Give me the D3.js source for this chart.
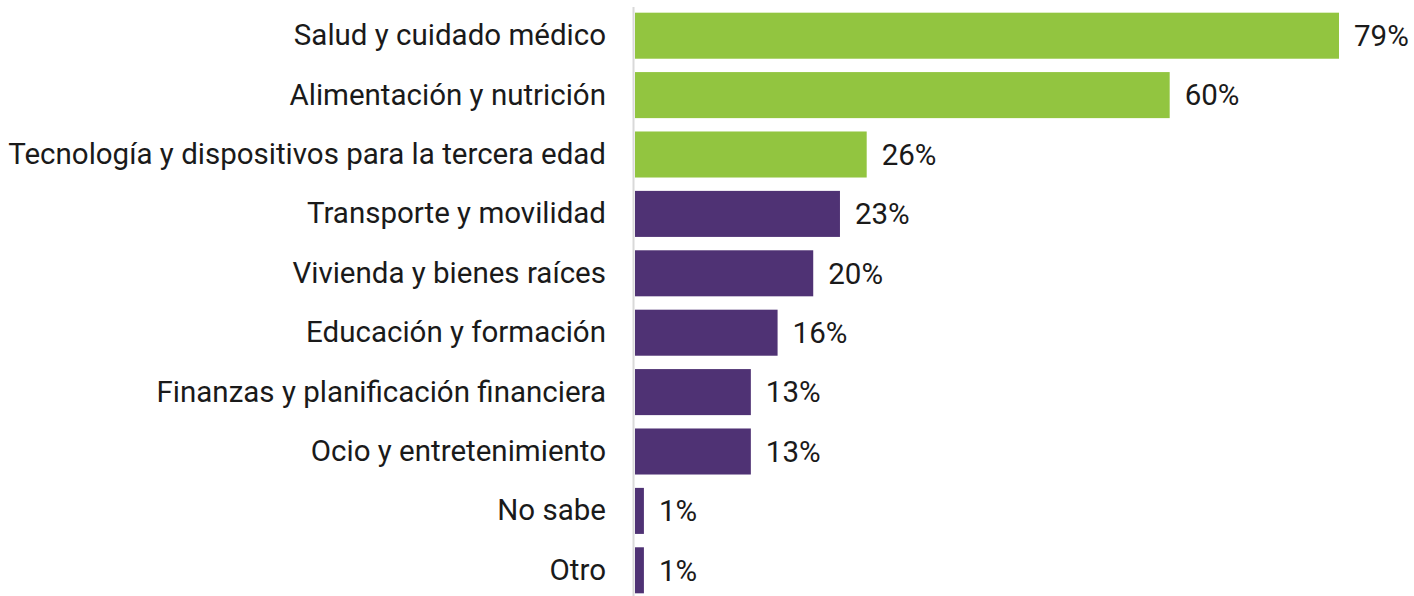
<!DOCTYPE html>
<html><head><meta charset="utf-8">
<script src="https://cdn.jsdelivr.net/npm/d3@7"></script>
<style>body{margin:0;background:#fff}svg{display:block}</style>
</head><body>
<script>
const categories = ["Salud y cuidado médico","Alimentación y nutrición","Tecnología y dispositivos para la tercera edad","Transporte y movilidad","Vivienda y bienes raíces","Educación y formación","Finanzas y planificación financiera","Ocio y entretenimiento","No sabe","Otro"];
const values = [79,60,26,23,20,16,13,13,1,1];
const highlighted = [true,true,true,false,false,false,false,false,false,false];

const W=1414,H=596;
const svg=d3.select("body").append("svg").attr("width",W).attr("height",H);
const x0=635;
const x=d3.scaleLinear().domain([0,79]).range([x0,1339]);
const y=d3.scaleBand().domain(categories).range([6,600]).paddingInner(0.225).paddingOuter(0.1125);

svg.selectAll("rect.bar").data(categories).join("rect")
  .attr("x",x(0)).attr("y",d=>y(d))
  .attr("width",(d,i)=>x(values[i])-x(0)).attr("height",y.bandwidth())
  .attr("fill",(d,i)=>highlighted[i]?"#92c540":"#4f3274");

svg.append("line").attr("x1",633.5).attr("x2",633.5).attr("y1",7).attr("y2",H)
  .attr("stroke","#d9d9d9").attr("stroke-width",2);

const axis=d3.axisLeft(y).tickSize(0).tickPadding(0);
const g=svg.append("g").attr("transform","translate(606,0)").call(axis);
g.select(".domain").remove();
g.selectAll("text").attr("font-family","Roboto").attr("font-size",29.5).attr("fill","#1a1a1a");

svg.selectAll("text.val").data(categories).join("text").attr("class","val")
  .attr("x",(d,i)=>x(values[i])+15).attr("y",d=>y(d)+y.bandwidth()/2)
  .attr("dy","0.35em").attr("font-family","Roboto").attr("font-size",29.5).attr("fill","#1a1a1a")
  .text((d,i)=>values[i]+"%");
</script>
</body></html>
